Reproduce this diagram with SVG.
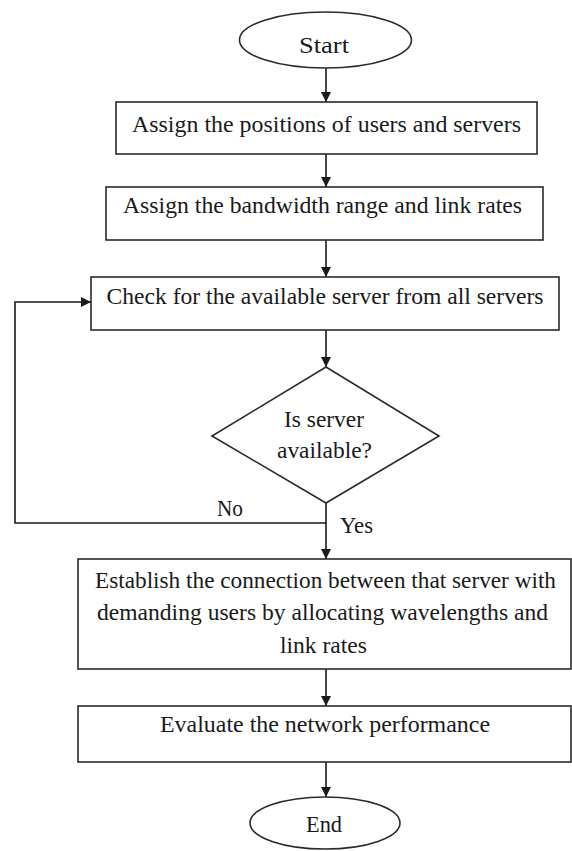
<svg xmlns="http://www.w3.org/2000/svg" width="572" height="851" viewBox="0 0 572 851">
<defs>
<marker id="ah" viewBox="0 0 10 10" refX="10" refY="5" markerWidth="10" markerHeight="10" markerUnits="userSpaceOnUse" orient="auto">
<path d="M0,0 L10,5 L0,10 z" fill="#1a1a1a"/>
</marker>
</defs>
<style>
.shape{fill:#ffffff;stroke:#2a2a2a;stroke-width:1.6}
.t{font-family:"Liberation Serif","Times New Roman",serif;font-size:23px;fill:#1a1a1a;text-anchor:middle}
.l{font-family:"Liberation Serif","Times New Roman",serif;font-size:23px;fill:#1a1a1a}
.c{fill:none;stroke:#1a1a1a;stroke-width:1.6;marker-end:url(#ah)}
.cn{fill:none;stroke:#1a1a1a;stroke-width:1.6}
</style>
<rect width="572" height="851" fill="#ffffff"/>
<g id="connectors">
<line class="c" x1="326" y1="68" x2="326" y2="102"/>
<line class="c" x1="326" y1="154" x2="326" y2="187"/>
<line class="c" x1="326" y1="240" x2="326" y2="277"/>
<line class="c" x1="326" y1="330" x2="326" y2="367"/>
<polyline class="c" points="326,503 326,523 15,523 15,302 91,302"/>
<line class="c" x1="326" y1="523" x2="326" y2="559"/>
<line class="c" x1="326" y1="669" x2="326" y2="706"/>
<line class="c" x1="326" y1="762" x2="326" y2="797"/>
<text class="l" x="217" y="516" textLength="26" lengthAdjust="spacingAndGlyphs">No</text>
<text class="l" x="340" y="533" textLength="33" lengthAdjust="spacingAndGlyphs">Yes</text>
</g>
<g id="start">
<ellipse class="shape" cx="325.5" cy="40" rx="86" ry="28"/>
<text class="t" x="324" y="53" font-size="26" textLength="50" lengthAdjust="spacingAndGlyphs">Start</text>
</g>
<g id="assign-positions">
<rect class="shape" x="116" y="102" width="421" height="52"/>
<text class="t" x="326.5" y="132" textLength="389" lengthAdjust="spacingAndGlyphs">Assign the positions of users and servers</text>
</g>
<g id="assign-bandwidth">
<rect class="shape" x="106" y="187" width="437" height="53"/>
<text class="t" x="322.5" y="213" textLength="399" lengthAdjust="spacingAndGlyphs">Assign the bandwidth range and link rates</text>
</g>
<g id="check-server">
<rect class="shape" x="91" y="277" width="468" height="53"/>
<text class="t" x="325" y="304" textLength="437" lengthAdjust="spacingAndGlyphs">Check for the available server from all servers</text>
</g>
<g id="decision">
<polygon class="shape" points="326,367 439,436 326,503 212,436"/>
<text class="t" x="324" y="427" textLength="80" lengthAdjust="spacingAndGlyphs">Is server</text>
<text class="t" x="324.5" y="458" textLength="95" lengthAdjust="spacingAndGlyphs">available?</text>
</g>
<g id="establish">
<rect class="shape" x="78" y="559" width="493" height="110"/>
<text class="t" x="325.5" y="588" textLength="461" lengthAdjust="spacingAndGlyphs">Establish the connection between that server with</text>
<text class="t" x="322.5" y="620" textLength="451" lengthAdjust="spacingAndGlyphs">demanding users by allocating wavelengths and</text>
<text class="t" x="323.5" y="653" textLength="87" lengthAdjust="spacingAndGlyphs">link rates</text>
</g>
<g id="evaluate">
<rect class="shape" x="78" y="706" width="493" height="56"/>
<text class="t" x="325" y="732" textLength="330" lengthAdjust="spacingAndGlyphs">Evaluate the network performance</text>
</g>
<g id="end">
<ellipse class="shape" cx="325" cy="823" rx="75" ry="26"/>
<text class="t" x="324" y="832" textLength="36" lengthAdjust="spacingAndGlyphs">End</text>
</g>
</svg>
